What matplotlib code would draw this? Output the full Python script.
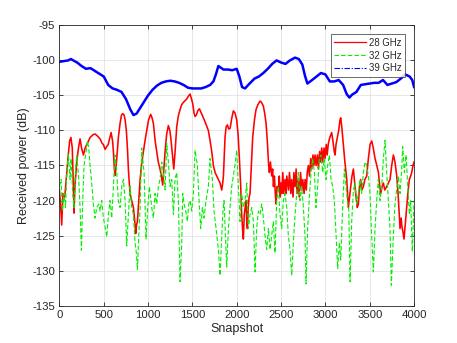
import matplotlib
matplotlib.use("Agg")
import matplotlib.pyplot as plt
from matplotlib.lines import Line2D

plt.rcParams['font.family'] = ['Liberation Sans', 'DejaVu Sans']
plt.rcParams['axes.unicode_minus'] = False

# ---- data ----
red_x = [0, 15, 26, 40, 60, 80, 100, 115, 130, 145, 160, 165, 175, 195, 215, 233, 250, 271, 290, 310,
         346, 380, 402, 430, 459, 480, 496, 515, 534, 550, 564, 583, 600, 609, 620, 628, 640, 647, 665, 684,
         700, 714, 730, 741, 755, 767, 780, 797, 815, 835, 850, 861, 870, 880, 895, 910, 930, 947, 965, 985,
         1005, 1030, 1045, 1060, 1080, 1098, 1115, 1135, 1150, 1165, 1178, 1192, 1210, 1229, 1245, 1256, 1275, 1290, 1305, 1323,
         1340, 1361, 1380, 1398, 1420, 1436, 1455, 1474, 1490, 1504, 1518, 1530, 1545, 1560, 1579, 1600, 1624, 1650, 1680, 1700,
         1718, 1737, 1756, 1775, 1793, 1812, 1831, 1842, 1850, 1860, 1868, 1880, 1895, 1910, 1925, 1945, 1962, 1980, 2000, 2015,
         2030, 2045, 2056, 2068, 2075, 2085, 2095, 2105, 2113, 2120, 2130, 2140, 2150, 2165, 2180, 2200, 2218, 2240, 2263, 2280,
         2300, 2315, 2331, 2345, 2360, 2368, 2380, 2395, 2405, 2414, 2425, 2435, 2444, 2455, 2470, 2480, 2490, 2500, 2508, 2520,
         2530, 2545, 2555, 2565, 2583, 2595, 2610, 2620, 2635, 2645, 2658, 2670, 2680, 2695, 2705, 2720, 2733, 2745, 2760, 2771,
         2785, 2795, 2808, 2820, 2835, 2846, 2860, 2870, 2883, 2895, 2910, 2921, 2935, 2945, 2959, 2970, 2985, 2996, 3010, 3020,
         3034, 3050, 3071, 3085, 3100, 3109, 3120, 3135, 3150, 3165, 3173, 3185, 3203, 3220, 3241, 3259, 3272, 3286, 3300, 3316,
         3330, 3346, 3360, 3372, 3385, 3398, 3410, 3429, 3445, 3466, 3485, 3504, 3523, 3540, 3560, 3580, 3598, 3610, 3624, 3640,
         3654, 3670, 3692, 3710, 3729, 3748, 3767, 3785, 3805, 3820, 3842, 3855, 3861, 3875, 3887, 3900, 3917, 3930, 3947, 3962,
         3974, 3988, 4000]
red_y = [-118.5, -121, -123.5, -119, -119.5, -116.5, -113.5, -111.5, -111, -112.5, -119, -121.8, -118, -114.5, -112.5, -111.2, -112.5, -113.5, -112.5, -112,
         -111, -110.6, -110.5, -110.8, -111.2, -111.8, -112, -112.7, -112.3, -112, -111.3, -110.3, -111.5, -113, -115.5, -116.4, -115, -114, -111, -109,
         -107.8, -107.6, -107.8, -108.5, -110, -112.5, -116, -119, -120, -121, -123, -124.7, -123.5, -123, -120, -117, -114.5, -113, -111.5, -110,
         -108.5, -107.7, -108.2, -109, -111.5, -113, -114.5, -115.5, -116.5, -117.8, -115.5, -113, -110.5, -109.3, -110, -111, -113.5, -115.5, -113, -109.5,
         -108, -107, -106.3, -106, -105.7, -105.5, -105.1, -104.8, -105.5, -106.2, -107.5, -108, -107.8, -107.2, -106.9, -107.5, -108.2, -109, -110, -111.5,
         -113, -115, -116, -116.5, -117, -117.5, -118.5, -117.5, -116.5, -113.5, -111, -109.5, -109.2, -109.8, -109.7, -108.2, -107.2, -107.5, -108.5, -110.5,
         -114, -118, -122, -124.5, -125.5, -122, -121, -120, -123, -124, -121, -119.5, -119, -115, -111, -108.5, -107, -106.3, -105.8, -106,
         -106.5, -107.5, -109, -111.5, -115, -116, -114.5, -116.5, -115.5, -118, -116.5, -119, -120.5, -118, -118.5, -116.5, -119.5, -117.5, -119, -116,
         -119, -117, -119, -116.5, -118.5, -116, -119, -117, -119.5, -116, -118, -115.5, -119, -117, -119.5, -116, -118.5, -117, -119, -117,
         -118.5, -116, -115, -116.5, -114, -115.5, -113.5, -115, -113.5, -115, -113.5, -115.5, -113, -114.5, -112.5, -114.5, -112.5, -114, -112, -113.5,
         -111.8, -111, -110.3, -111.5, -113, -113.5, -112, -111, -110, -108.5, -108.2, -109.5, -112, -114.5, -117, -121, -119.5, -118, -116.5, -115.5,
         -117.5, -119.5, -121, -120.5, -118, -117, -118.5, -118, -117, -116.5, -114, -112, -111.5, -112.5, -114, -115, -116, -117.5, -119, -118,
         -117.5, -118.5, -118, -117.5, -117, -115, -113.5, -114.5, -116.5, -119, -124, -122.5, -123.5, -124.5, -125.5, -123.5, -121, -119, -117, -116.5,
         -116, -115, -114.5]

green_x = [0, 19, 34, 53, 68, 83, 101, 120, 132, 150, 165, 180, 195, 218, 233, 248, 263, 278, 301, 316,
           331, 346, 368, 383, 402, 421, 444, 459, 477, 496, 519, 534, 553, 571, 590, 609, 628, 647, 665, 684,
           703, 722, 741, 759, 778, 797, 816, 835, 853, 868, 880, 895, 910, 928, 955, 977, 996, 1015, 1041, 1060,
           1079, 1098, 1116, 1135, 1154, 1173, 1192, 1210, 1229, 1248, 1267, 1286, 1304, 1323, 1342, 1361, 1380, 1391, 1406, 1425,
           1443, 1459, 1474, 1492, 1511, 1530, 1556, 1575, 1594, 1613, 1631, 1654, 1680, 1699, 1725, 1744, 1767, 1793, 1812, 1842,
           1857, 1876, 1887, 1906, 1925, 1943, 1962, 1985, 2000, 2019, 2037, 2056, 2075, 2094, 2113, 2131, 2150, 2169, 2188, 2207,
           2225, 2244, 2263, 2282, 2301, 2319, 2338, 2357, 2376, 2394, 2413, 2432, 2451, 2470, 2488, 2507, 2526, 2545, 2564, 2582,
           2601, 2620, 2639, 2658, 2676, 2695, 2714, 2733, 2752, 2770, 2782, 2800, 2819, 2838, 2857, 2876, 2894, 2913, 2932, 2951,
           2970, 2988, 3007, 3026, 3045, 3064, 3082, 3101, 3120, 3139, 3158, 3173, 3195, 3214, 3233, 3248, 3263, 3278, 3297, 3316,
           3334, 3353, 3372, 3391, 3409, 3428, 3447, 3466, 3485, 3503, 3522, 3541, 3560, 3579, 3597, 3616, 3635, 3654, 3673, 3692,
           3710, 3729, 3744, 3767, 3785, 3804, 3823, 3842, 3861, 3872, 3891, 3910, 3929, 3947, 3962, 3981, 4000]
green_y = [-118, -117, -121.5, -119, -121, -116, -113.3, -117, -114, -119, -121, -116, -113.5, -117, -121, -127.1, -120, -115, -113, -111.5,
           -112.5, -115, -118, -120.5, -122.5, -121, -120.5, -121.5, -120, -122.5, -124, -125.2, -122, -120, -122.5, -118, -113.5, -116, -120, -121,
           -118, -117, -120, -126.5, -122, -118, -121, -122, -126, -127.5, -129.9, -125, -121, -112.5, -116, -125.5, -121, -118, -121, -122.5,
           -119, -120.5, -118, -117, -114.5, -116, -118.5, -111.8, -114.5, -118, -117, -122, -117, -116, -120, -131.6, -126, -119, -120.5, -121.5,
           -123, -120.5, -120, -121.5, -119, -112.8, -115, -120, -124, -121, -122.5, -120, -118, -114, -117, -121.5, -124, -127, -130.7, -122,
           -120, -126, -129.5, -124, -121, -118, -116.5, -114.5, -112.8, -118, -123, -119, -121, -120, -117.5, -124, -122, -121, -123, -130.2,
           -124, -121.5, -122, -120.5, -122.5, -125, -127, -124, -127, -125, -123, -127.5, -120, -118, -122, -124, -120, -119, -121, -125,
           -127, -130.7, -126, -122, -119, -116, -120, -118, -121, -125, -131.9, -124, -119.5, -116, -114, -116, -121, -118, -114, -113.5,
           -116, -114, -117, -115, -113.5, -117, -118, -120, -125, -129.7, -126, -128.5, -121, -115.5, -118, -120, -121, -131.6, -123, -118.5,
           -117.5, -120.5, -119, -117, -119, -116, -114.5, -115, -116.5, -119, -125, -130.2, -124, -120, -117, -120, -118, -114, -111.4, -116,
           -120, -124, -132.1, -125, -120.5, -118.5, -116.5, -119, -115.5, -112.3, -116, -113.5, -118, -122, -120, -127.3, -120]

blue_x = [0, 50, 100, 130, 170, 200, 250, 300, 350, 400, 450, 500, 550, 600, 650, 700, 750, 800, 835, 870,
          900, 950, 1000, 1050, 1100, 1150, 1200, 1250, 1300, 1350, 1400, 1450, 1500, 1550, 1600, 1650, 1700, 1737, 1765, 1793,
          1850, 1900, 1950, 2000, 2030, 2060, 2094, 2130, 2200, 2250, 2300, 2350, 2400, 2450, 2500, 2550, 2600, 2658, 2700, 2740,
          2770, 2797, 2850, 2900, 2950, 3000, 3050, 3100, 3150, 3200, 3240, 3271, 3300, 3350, 3400, 3450, 3500, 3550, 3600, 3650,
          3700, 3750, 3800, 3850, 3900, 3950, 3980, 4000]
blue_y = [-100.2, -100.1, -100, -99.8, -100.1, -100.3, -100.8, -101.2, -101.1, -101.5, -101.9, -102.3, -103.5, -104, -104.2, -104.5, -105.5, -107, -107.8, -107.6,
          -107, -106, -105, -104.2, -103.6, -103.2, -103, -102.9, -103, -103.2, -103.5, -103.9, -104, -104, -104, -103.8, -103.5, -103, -102, -100.8,
          -101.3, -101.3, -101.4, -101.2, -102.3, -103.8, -104, -103.5, -102.6, -102.3, -101.8, -101.2, -100.5, -100, -100.3, -100.5, -100, -99.6, -99.8, -100.6,
          -102.2, -103.3, -102.8, -102.3, -101.8, -102, -103, -103, -102.8, -103.5, -104.8, -105.3, -104.9, -104.5, -103.5, -103.4, -103.3, -103.2, -103.2, -102.8,
          -103.5, -103.3, -103.1, -102.6, -102, -102.3, -102.8, -103.8]

labels = ['28 GHz', '32 GHz', '39 GHz']
colors = ['#ff0000', '#00f000', '#0000ff']

x_ticks = [0, 500, 1000, 1500, 2000, 2500, 3000, 3500, 4000]
y_ticks = [-135, -130, -125, -120, -115, -110, -105, -100, -95]

# ---- figure ----
fig = plt.figure(figsize=(4.57, 3.43), dpi=100)
ax = fig.add_axes([0.130, 0.109, 0.776, 0.817])

ax.plot(red_x, red_y, color=colors[0], lw=1.15, solid_joinstyle='round')
ax.plot(green_x, green_y, color=colors[1], lw=0.8, ls=(0, (4, 2)))
ax.plot(blue_x, blue_y, color=colors[2], lw=1.8, solid_joinstyle='round')

ax.set_xlim(0, 4000)
ax.set_ylim(-135, -95)
ax.set_xticks(x_ticks)
ax.set_yticks(y_ticks)
ax.set_xticklabels([str(t) for t in x_ticks])
ax.set_yticklabels([str(t) for t in y_ticks])

ax.grid(True, color='#e3e3e3', lw=0.6)
ax.set_axisbelow(True)
for s in ax.spines.values():
    s.set_color('#262626')
    s.set_linewidth(0.6)
ax.tick_params(direction='in', length=3, width=0.6, colors='#262626', labelsize=8.2,
               top=True, right=True, pad=3)

ax.set_xlabel('Snapshot', fontsize=9, color='#262626', labelpad=2.5)
ax.set_ylabel('Received power (dB)', fontsize=9, color='#262626', labelpad=2)

handles = [Line2D([], [], color=colors[0], lw=0.9, ls='-'),
           Line2D([], [], color=colors[1], lw=0.8, ls=(0, (4, 2))),
           Line2D([], [], color=colors[2], lw=0.8, ls=(0, (5, 1.5, 1, 1.5)))]
leg = ax.legend(handles, labels, loc='upper right', bbox_to_anchor=(0.974, 0.968),
                fontsize=6.9, frameon=True, fancybox=False, edgecolor='#262626',
                handlelength=3.3, handletextpad=0.3, borderpad=0.35, labelspacing=0.3,
                borderaxespad=0)
leg.get_frame().set_linewidth(0.6)
for t in leg.get_texts():
    t.set_color('#262626')

fig.savefig('out.png', dpi=100)
